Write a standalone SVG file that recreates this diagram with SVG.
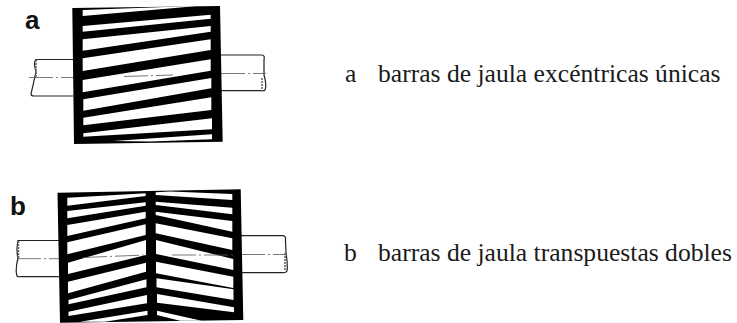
<svg xmlns="http://www.w3.org/2000/svg" width="737" height="323" viewBox="0 0 737 323">
<style>
.rotor{fill:#000}
.slot{fill:#fff}
.shaft{fill:none;stroke:#222;stroke-width:1.2}
.center{fill:none;stroke:#555;stroke-width:.8;stroke-dasharray:24 3 2 3}
.hatch{fill:none;stroke:#666;stroke-width:1.6;stroke-dasharray:2 1}
.tag{font-family:"Liberation Sans",Arial,sans-serif;font-weight:bold;font-size:26px;fill:#111}
.cap{font-family:"Liberation Serif","Times New Roman",serif;font-size:25.6px;fill:#1a1a1a}
</style>
<defs><filter id="soft" x="-5%" y="-5%" width="110%" height="110%"><feGaussianBlur stdDeviation="0.45"/></filter></defs>
<rect width="737" height="323" fill="#fff"/>
<g id="figure-a" filter="url(#soft)">
<path class="shaft" d="M73 59.5H36Q33 62 36 72L31 94Q31 96 34 96H73"/>
<path class="shaft" d="M221 55H262Q265 55 264 60L264 75Q267 85 265 90Q264 91 261 90.7H221"/>
<path class="hatch" d="M36 60V77"/>
<path class="hatch" d="M262 78V90"/>
<path class="center" d="M29 77.5H73"/>
<path class="center" d="M221 73.5H266"/>
<polygon class="rotor" points="72.3,8 220,6 222.7,141.7 74,144"/>
<polygon class="slot" points="82.7,10 185,6.3 195,6.3 82.7,16"/>
<polygon class="slot" points="82.7,26 210.7,14.7 210.7,18.7 82.7,31.7"/>
<polygon class="slot" points="82.7,39.3 210.7,26 210.7,31.7 82.7,50.7"/>
<polygon class="slot" points="82.7,58.3 210.7,39.3 210.7,50 82.7,71"/>
<polygon class="slot" points="82.7,80 210.7,59.3 210.7,70.7 82.7,92.3"/>
<polygon class="slot" points="83.3,99.3 211.3,78 211.3,88.3 83.3,110.7"/>
<polygon class="slot" points="83.3,117.7 211.3,97.3 211.3,110 83.3,125.3"/>
<polygon class="slot" points="83.3,133.3 212,118.3 212,129.3 83.3,136.7"/>
<polygon class="slot" points="113,141 212,134.3 212,139.3 150,141.5"/>
<path class="center" d="M124 76.5L173 75"/>
</g>
<g id="figure-b" filter="url(#soft)">
<path class="shaft" d="M59 240.5H18Q16 250 18 258Q15 270 17 276Q18 277 21 276.7H59"/>
<path class="shaft" d="M241 235.7H283Q286 236 285.5 240L286 253Q288 265 287 271Q286 273 283 272.7H241"/>
<path class="hatch" d="M18.500 241V258"/>
<path class="hatch" d="M285 253V271"/>
<path class="center" d="M17 258.700H60"/>
<path class="center" d="M241 254.500H287"/>
<polygon class="rotor" points="57.500,192.700 240.700,189.300 243.300,320 60,322.700"/>
<polygon class="slot" points="67.300,197.700 145.700,193.300 145.700,196 67.300,205.700"/>
<polygon class="slot" points="67.300,211 145.700,202.300 145.700,205.700 67.300,218.300"/>
<polygon class="slot" points="67.300,225 145.700,211.700 145.700,218.300 67.300,236"/>
<polygon class="slot" points="67.300,242.300 145.700,224.300 145.700,235 67.300,254.300"/>
<polygon class="slot" points="68,262.700 146,240 146,255 68,274"/>
<polygon class="slot" points="68,281.700 146,262.700 146,271.700 68,293.300"/>
<polygon class="slot" points="68.500,300 146.500,279.300 146.500,287.300 68.500,304.300"/>
<polygon class="slot" points="68.500,311.700 147,295 147,303.300 68.500,316"/>
<polygon class="slot" points="80,321.700 147.500,310.700 147.500,315 105,321.700"/>
<polygon class="slot" points="155.700,192.300 170,191.500 232.300,194 232.300,200 155.700,195"/>
<polygon class="slot" points="155.700,201.700 232.300,207.700 232.300,214.300 155.700,205"/>
<polygon class="slot" points="155.700,211.700 232.300,221 232.300,231.700 155.700,215"/>
<polygon class="slot" points="155.700,223.300 232.300,238.300 232.300,250 155.700,233.300"/>
<polygon class="slot" points="156,240 233.300,259 233.300,270 156,254"/>
<polygon class="slot" points="156,261.700 233.300,276.700 233.300,288 156,273.300"/>
<polygon class="slot" points="156.500,278.300 233.500,289.300 233.500,300 156.500,287.300"/>
<polygon class="slot" points="157,294 234,307.300 234,312.300 157,302.700"/>
<polygon class="slot" points="157,310.700 201.700,320.700 180,320.700 157,315"/>
<path class="center" d="M83 257.500L146 255"/>
<path class="center" d="M172 255H233"/>
</g>
<g id="labels">
<text class="tag" x="25" y="29">a</text>
<text class="tag" x="10" y="215">b</text>
<text class="cap" x="345" y="82">a</text>
<text class="cap" x="378" y="82">barras de jaula excéntricas únicas</text>
<text class="cap" x="344" y="261">b</text>
<text class="cap" x="378" y="261">barras de jaula transpuestas dobles</text>
</g>
</svg>
